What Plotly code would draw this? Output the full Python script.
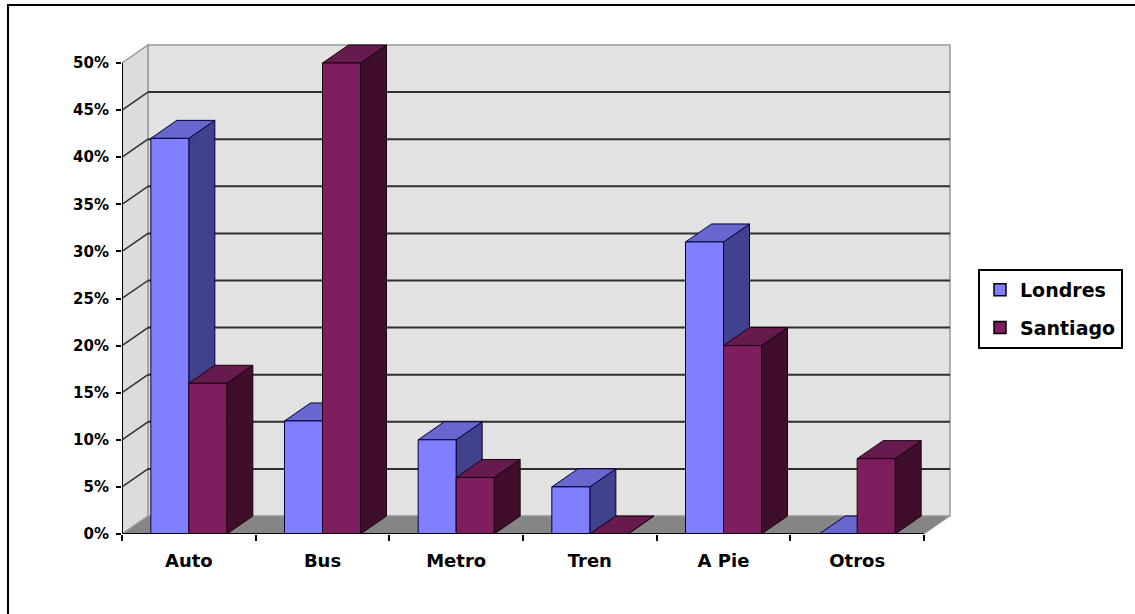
import plotly.graph_objects as go

# ---------------- data ----------------
CATEGORIES = ["Auto", "Bus", "Metro", "Tren", "A Pie", "Otros"]
LONDRES = [42, 12, 10, 5, 31, 0]
SANTIAGO = [16, 50, 6, 0, 20, 8]
Y_TICKS = [0, 5, 10, 15, 20, 25, 30, 35, 40, 45, 50]
Y_TICK_LABELS = [f"{t}%" for t in Y_TICKS]
SERIES_NAMES = ["Londres", "Santiago"]

# ---------------- style / geometry (pixels) ----------------
W, H = 1135, 614
PLOT_L, PLOT_R, PLOT_T, PLOT_B = 122, 952, 40, 534
FRONT_R = 924              # right end of the front category axis
TOP_PX = 63                # pixel y of the 50% tick
CAT_PX = (FRONT_R - PLOT_L) / len(CATEGORIES)
PCT_PX = (PLOT_B - TOP_PX) / Y_TICKS[-1]
DEPTH_X = 26 / CAT_PX      # depth offset in data units
DEPTH_Y = 18 / PCT_PX
BAR_W = 38 / CAT_PX

X0 = -0.5
X_FRONT_END = len(CATEGORIES) - 0.5
X_RANGE = [X0, X0 + (PLOT_R - PLOT_L) / CAT_PX]
Y_RANGE = [0, (PLOT_B - PLOT_T) / PCT_PX]
Y_MAX = Y_TICKS[-1]

COLORS = {
    "Londres": dict(front="#8080FF", top="#6767CF", side="#42428C", line="#00003A"),
    "Santiago": dict(front="#7E1E5E", top="#661A4D", side="#3E0E2C", line="#1A0010"),
}

FONT = "DejaVu Sans"

fig = go.Figure()


def poly(xs, ys, fill, line):
    fig.add_trace(go.Scatter(
        x=xs + [xs[0]], y=ys + [ys[0]], mode="lines", fill="toself",
        fillcolor=fill, line=dict(color=line, width=1),
        hoverinfo="skip", showlegend=False))


# bars, painted back-to-front / left-to-right
for i, cat in enumerate(CATEGORIES):
    for name, values, off in (("Londres", LONDRES, -BAR_W), ("Santiago", SANTIAGO, 0.0)):
        v = values[i]
        c = COLORS[name]
        x0 = i + off
        x1 = x0 + BAR_W
        # side face
        poly([x1, x1 + DEPTH_X, x1 + DEPTH_X, x1],
             [0, DEPTH_Y, v + DEPTH_Y, v], c["side"], c["line"])
        # top face
        poly([x0, x1, x1 + DEPTH_X, x0 + DEPTH_X],
             [v, v, v + DEPTH_Y, v + DEPTH_Y], c["top"], c["line"])
        # front face
        if v > 0:
            poly([x0, x1, x1, x0], [0, 0, v, v], c["front"], c["line"])

# legend entries
for k, name in enumerate(SERIES_NAMES):
    fig.add_trace(go.Bar(
        x=[None], y=[None], name=name, legendgroup=name,
        marker=dict(color=COLORS[name]["front"], line=dict(color="#000000", width=1.5))))

# ---------------- walls, floor, gridlines ----------------
shapes = []


def path(pts):
    return "M " + " L ".join(f"{x},{y}" for x, y in pts) + " Z"


# back wall
shapes.append(dict(type="path", xref="x", yref="y", layer="below",
                   path=path([(X0 + DEPTH_X, DEPTH_Y), (X_FRONT_END + DEPTH_X, DEPTH_Y),
                              (X_FRONT_END + DEPTH_X, Y_MAX + DEPTH_Y), (X0 + DEPTH_X, Y_MAX + DEPTH_Y)]),
                   fillcolor="#E2E2E2", line=dict(color="#9A9A9A", width=1.5)))
# side wall
shapes.append(dict(type="path", xref="x", yref="y", layer="below",
                   path=path([(X0, 0), (X0 + DEPTH_X, DEPTH_Y), (X0 + DEPTH_X, Y_MAX + DEPTH_Y), (X0, Y_MAX)]),
                   fillcolor="#DCDCDC", line=dict(color="#9A9A9A", width=1.5)))
# floor
shapes.append(dict(type="path", xref="x", yref="y", layer="below",
                   path=path([(X0, 0), (X0 + DEPTH_X, DEPTH_Y), (X_FRONT_END + DEPTH_X, DEPTH_Y), (X_FRONT_END, 0)]),
                   fillcolor="#858585", line=dict(color="#A0A0A0", width=1)))
# gridlines
for t in Y_TICKS[1:-1]:
    shapes.append(dict(type="line", xref="x", yref="y", layer="below",
                       x0=X0 + DEPTH_X, x1=X_FRONT_END + DEPTH_X, y0=t + DEPTH_Y, y1=t + DEPTH_Y,
                       line=dict(color="#2E2E2E", width=2)))
    shapes.append(dict(type="line", xref="x", yref="y", layer="below",
                       x0=X0, x1=X0 + DEPTH_X, y0=t, y1=t + DEPTH_Y,
                       line=dict(color="#2E2E2E", width=1.5)))
# front axes
shapes.append(dict(type="line", xref="x", yref="y", layer="above",
                   x0=X0, x1=X0, y0=0, y1=Y_MAX, line=dict(color="#000000", width=2)))
shapes.append(dict(type="line", xref="x", yref="y", layer="above",
                   x0=X0, x1=X_FRONT_END, y0=0, y1=0, line=dict(color="#000000", width=2)))

# outer chart border (right/bottom edges fall outside the picture)
pw = PLOT_R - PLOT_L
ph = PLOT_B - PLOT_T
shapes.append(dict(type="rect", xref="paper", yref="paper", layer="above",
                   x0=(8 - PLOT_L) / pw, x1=(W + 20 - PLOT_L) / pw,
                   y0=(PLOT_B - (H + 20)) / ph, y1=(PLOT_B - 5) / ph,
                   line=dict(color="#000000", width=2), fillcolor="rgba(0,0,0,0)"))

fig.update_layout(
    width=W, height=H,
    margin=dict(l=PLOT_L, r=W - PLOT_R, t=PLOT_T, b=H - PLOT_B, pad=0, autoexpand=False),
    paper_bgcolor="white", plot_bgcolor="white",
    shapes=shapes,
    barmode="overlay",
    showlegend=True,
    legend=dict(
        x=(978 - PLOT_L) / pw, xanchor="left",
        y=(PLOT_B - 269) / ph, yanchor="top",
        bgcolor="white", bordercolor="#000000", borderwidth=2,
        font=dict(family=FONT, size=19, color="#000000", weight="bold"),
        tracegroupgap=10, itemwidth=30,
    ),
    xaxis=dict(
        range=X_RANGE, showgrid=False, zeroline=False, showline=False,
        tickmode="array", tickvals=list(range(len(CATEGORIES))), ticktext=CATEGORIES,
        ticks="", ticklabelstandoff=14,
        tickfont=dict(family=FONT, size=18, color="#000000", weight="bold"),
        minor=dict(tickmode="array", tickvals=[i - 0.5 for i in range(len(CATEGORIES) + 1)],
                   ticks="outside", ticklen=6, tickcolor="#000000", tickwidth=2, showgrid=False),
        fixedrange=True,
    ),
    yaxis=dict(
        range=Y_RANGE, showgrid=False, zeroline=False, showline=False,
        tickmode="array", tickvals=Y_TICKS, ticktext=Y_TICK_LABELS,
        ticks="outside", ticklen=5, tickcolor="#000000", tickwidth=2,
        ticklabelstandoff=4,
        tickfont=dict(family=FONT, size=15, color="#000000", weight="bold"),
        fixedrange=True,
    ),
)

fig.write_html("out.html")
